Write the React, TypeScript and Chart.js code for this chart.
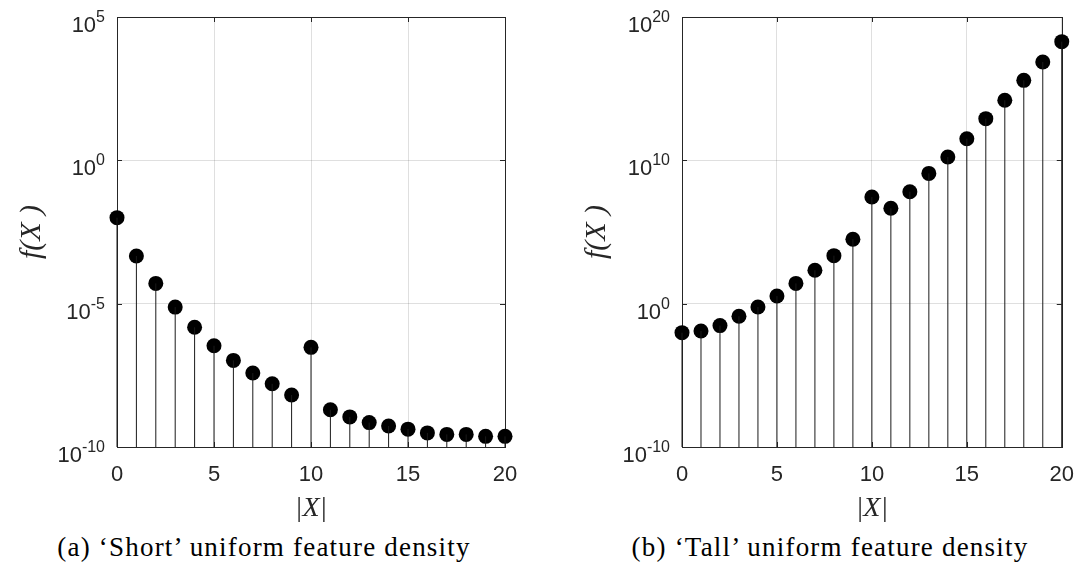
import React, { useEffect, useRef } from "react";
import { Chart, registerables } from "chart.js";

Chart.register(...registerables);

const xValues = [0, 1, 2, 3, 4, 5, 6, 7, 8, 9, 10, 11, 12, 13, 14, 15, 16, 17, 18, 19, 20];

const shortValues = [
  1e-2, 4.6e-4, 5.1e-5, 7.6e-6, 1.5e-6, 3.4e-7, 1.05e-7, 3.8e-8, 1.6e-8, 6.5e-9,
  3.0e-7, 2.0e-9, 1.12e-9, 7.1e-10, 5.4e-10, 4.2e-10, 3.1e-10, 2.75e-10, 2.75e-10, 2.35e-10, 2.35e-10,
];

const tallValues = [
  9.5e-3, 1.23e-2, 2.95e-2, 0.132, 0.59, 3.4, 26, 214, 2240, 3.1e4,
  2.75e7, 4.5e6, 6.5e7, 1.23e9, 1.7e10, 3.2e11, 8.1e12, 1.55e14, 3.8e15, 7.2e16, 1.9e18,
];

const shortYTicks = [1e-10, 1e-5, 1e0, 1e5];
const tallYTicks = [1e-10, 1e0, 1e10, 1e20];
const xTicks = [0, 5, 10, 15, 20];

const captionA = "(a) \u2018Short\u2019 uniform feature density";
const captionB = "(b) \u2018Tall\u2019 uniform feature density";
const yTitle = "f(X )";
const xTitle = "|X|";

const TEXT = "#262626";
const SANS = "'Liberation Sans', Arial, sans-serif";
const SERIF = "'Liberation Serif', 'Times New Roman', serif";

const CANVAS_H = 525;
const PLOT_TOP = 17;
const PLOT_BOTTOM = 447;

type StemProps = {
  values: number[];
  yTicks: number[];
  canvasLeft: number;
  canvasWidth: number;
  plotLeft: number;
  plotRight: number;
  yTitlePad: number;
};

function StemChart(props: StemProps) {
  const ref = useRef<HTMLCanvasElement | null>(null);
  useEffect(() => {
    const canvas = ref.current;
    if (!canvas) return;
    const { values, yTicks, plotLeft, plotRight, canvasWidth, yTitlePad } = props;
    const yMin = yTicks[0];
    const yMax = yTicks[yTicks.length - 1];

    const stemData: { x: number; y: number | null }[] = [];
    xValues.forEach((x, i) => {
      stemData.push({ x, y: yMin });
      stemData.push({ x, y: values[i] });
      stemData.push({ x, y: null });
    });
    const pointData = xValues.map((x, i) => ({ x, y: values[i] }));

    const framePlugin = {
      id: "matlabFrame",
      beforeDatasetsDraw(chart: any) {
        const { ctx, chartArea } = chart;
        const xs = chart.scales.x;
        const ys = chart.scales.y;
        ctx.save();
        ctx.strokeStyle = TEXT;
        ctx.lineWidth = 1;
        ctx.beginPath();
        const tl = 5;
        xTicks.forEach((v) => {
          const px = Math.round(xs.getPixelForValue(v)) + 0.5;
          ctx.moveTo(px, chartArea.bottom);
          ctx.lineTo(px, chartArea.bottom - tl);
          ctx.moveTo(px, chartArea.top);
          ctx.lineTo(px, chartArea.top + tl);
        });
        yTicks.forEach((v) => {
          const py = Math.round(ys.getPixelForValue(v)) + 0.5;
          ctx.moveTo(chartArea.left, py);
          ctx.lineTo(chartArea.left + tl, py);
          ctx.moveTo(chartArea.right, py);
          ctx.lineTo(chartArea.right - tl, py);
        });
        ctx.stroke();
        ctx.strokeRect(
          Math.round(chartArea.left) + 0.5,
          Math.round(chartArea.top) + 0.5,
          Math.round(chartArea.right - chartArea.left),
          Math.round(chartArea.bottom - chartArea.top)
        );
        ctx.restore();
      },
      afterDraw(chart: any) {
        const { ctx, chartArea } = chart;
        const ys = chart.scales.y;
        ctx.save();
        ctx.fillStyle = TEXT;
        ctx.textBaseline = "alphabetic";
        yTicks.forEach((v) => {
          const py = ys.getPixelForValue(v);
          const exp = String(Math.round(Math.log10(v)));
          ctx.font = `16px ${SANS}`;
          const ew = ctx.measureText(exp).width;
          const right = chartArea.left - 12;
          ctx.textAlign = "right";
          ctx.fillText(exp, right, py + 5);
          ctx.font = `22px ${SANS}`;
          ctx.fillText("10", right - ew, py + 15);
        });
        ctx.restore();
      },
    };

    const chart = new Chart(canvas, {
      type: "scatter",
      data: {
        datasets: [
          {
            type: "line",
            data: stemData as any,
            borderColor: "#1a1a1a",
            borderWidth: 1,
            pointRadius: 0,
            spanGaps: false,
            fill: false,
            clip: false as any,
          },
          {
            type: "scatter",
            data: pointData,
            backgroundColor: "#000",
            borderWidth: 0,
            pointRadius: 7.5,
            clip: false as any,
          },
        ],
      },
      options: {
        animation: false,
        responsive: false,
        events: [],
        layout: {
          padding: { left: 0, right: canvasWidth - plotRight, top: PLOT_TOP, bottom: 0 },
        },
        plugins: {
          legend: { display: false },
          tooltip: { enabled: false },
        },
        scales: {
          x: {
            type: "linear",
            min: 0,
            max: 20,
            afterBuildTicks: (axis: any) => {
              axis.ticks = xTicks.map((v) => ({ value: v }));
            },
            afterFit: (axis: any) => {
              axis.height = CANVAS_H - PLOT_BOTTOM;
            },
            ticks: {
              font: { family: SANS, size: 22 },
              color: TEXT,
              padding: 15,
              maxRotation: 0,
            },
            grid: {
              color: "rgba(38,38,38,0.15)",
              drawTicks: false,
            },
            border: { display: false },
            title: {
              display: true,
              text: xTitle,
              color: TEXT,
              font: { family: SERIF, size: 28, style: "italic" },
              padding: { top: 0, bottom: 0 },
            },
          },
          y: {
            type: "logarithmic",
            min: yMin,
            max: yMax,
            afterBuildTicks: (axis: any) => {
              axis.ticks = yTicks.map((v) => ({ value: v }));
            },
            afterFit: (axis: any) => {
              axis.width = plotLeft;
            },
            ticks: { display: false },
            grid: {
              color: "rgba(38,38,38,0.15)",
              drawTicks: false,
            },
            border: { display: false },
            title: {
              display: true,
              text: yTitle,
              color: TEXT,
              font: { family: SERIF, size: 30, style: "italic" },
              padding: { top: yTitlePad, bottom: 0 },
            },
          },
        },
      } as any,
      plugins: [framePlugin],
    });
    return () => chart.destroy();
  }, []);

  return (
    <canvas
      ref={ref}
      width={props.canvasWidth}
      height={CANVAS_H}
      style={{ position: "absolute", left: props.canvasLeft, top: 0, width: props.canvasWidth, height: CANVAS_H }}
    />
  );
}

const captionStyle: React.CSSProperties = {
  position: "absolute",
  top: 532,
  height: 30,
  lineHeight: "30px",
  fontFamily: SERIF,
  fontSize: 27,
  letterSpacing: "1.2px",
  color: "#000",
  whiteSpace: "nowrap",
  transform: "translateX(-50%)",
};

export default function App() {
  return (
    <div style={{ position: "absolute", left: 0, top: 0, width: 1089, height: 567, background: "#fff", overflow: "hidden" }}>
      <StemChart
        values={shortValues}
        yTicks={shortYTicks}
        canvasLeft={0}
        canvasWidth={545}
        plotLeft={117}
        plotRight={505}
        yTitlePad={14}
      />
      <StemChart
        values={tallValues}
        yTicks={tallYTicks}
        canvasLeft={545}
        canvasWidth={544}
        plotLeft={137}
        plotRight={525}
        yTitlePad={34}
      />
      <div style={{ ...captionStyle, left: 264 }}>{captionA}</div>
      <div style={{ ...captionStyle, left: 830 }}>{captionB}</div>
    </div>
  );
}
